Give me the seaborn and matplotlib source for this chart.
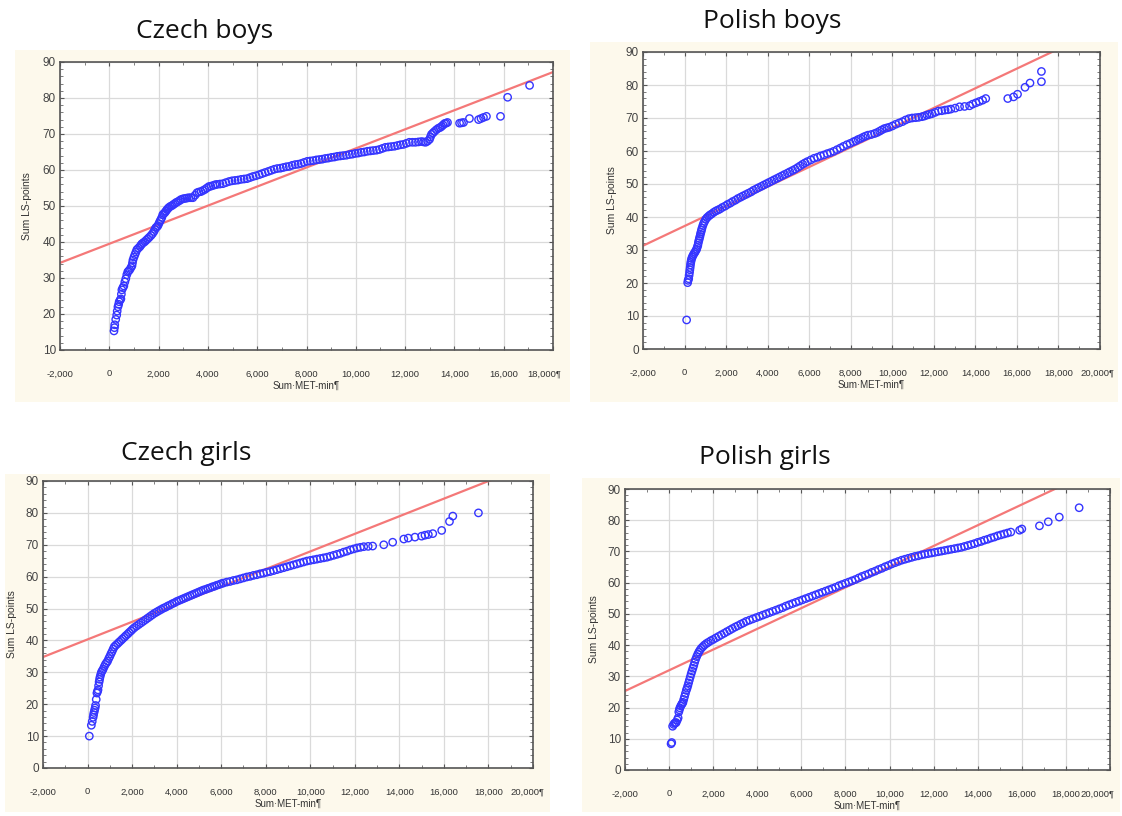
import matplotlib
matplotlib.use("Agg")
import numpy as np
import pandas as pd
import seaborn as sns
import matplotlib.pyplot as plt
from matplotlib.patches import Rectangle
from matplotlib.ticker import MultipleLocator, FixedLocator

# ---------------- data ----------------
titles = ["Czech boys", "Polish boys", "Czech girls", "Polish girls"]
x_label = "Sum·MET-min¶"
y_label = "Sum LS-points"

cb_x = [190, 210, 220, 260, 300, 320, 350, 380, 400, 440,
        470, 490, 510, 550, 590, 630, 670, 710, 750, 790,
        830, 880, 920, 940, 960, 1000, 1040, 1080, 1120, 1180,
        1240, 1280, 1320, 1380, 1440, 1500, 1560, 1620, 1690, 1750,
        1810, 1850, 1890, 1930, 1970, 2010, 2050, 2090, 2130, 2170,
        2210, 2260, 2300, 2340, 2380, 2420, 2480, 2540, 2600, 2660,
        2720, 2780, 2850, 2910, 2990, 3070, 3150, 3230, 3310, 3390,
        3480, 3560, 3640, 3720, 3800, 3880, 3960, 4040, 4120, 4210,
        4290, 4370, 4490, 4610, 4730, 4860, 4980, 5100, 5220, 5350,
        5470, 5590, 5710, 5830, 5950, 6080, 6200, 6320, 6450, 6570,
        6690, 6810, 6940, 7060, 7180, 7300, 7420, 7540, 7660, 7780,
        7900, 8030, 8150, 8270, 8400, 8520, 8640, 8760, 8880, 9010,
        9130, 9250, 9370, 9490, 9620, 9740, 9860, 9980, 10100, 10220,
        10340, 10470, 10590, 10710, 10840, 10960, 11080, 11200, 11320, 11440,
        11570, 11690, 11810, 11930, 12050, 12170, 12300, 12420, 12540, 12660,
        12750, 12830, 12910, 12990, 13030, 13070, 13130, 13190, 13270, 13350,
        13420, 13480, 13540, 13600, 13660, 13720, 14210, 14290, 14370, 14610,
        14980, 15080, 15180, 15300, 15870, 16160, 17050]
cb_y = [15.3, 16.2, 17.0, 18.5, 19.7, 20.8, 22.0, 22.7, 23.4, 23.9,
        24.2, 25.5, 26.7, 27.3, 27.8, 28.9, 29.8, 30.9, 31.7, 32.0,
        32.3, 32.9, 33.4, 34.2, 35.0, 35.8, 36.5, 37.2, 37.9, 38.3,
        38.7, 39.1, 39.5, 39.8, 40.1, 40.5, 40.9, 41.3, 41.8, 42.3,
        42.9, 43.5, 44.0, 44.2, 44.5, 45.1, 45.7, 46.2, 46.8, 47.6,
        47.9, 48.2, 48.6, 49.0, 49.3, 49.6, 49.9, 50.1, 50.4, 50.7,
        51.0, 51.2, 51.5, 51.8, 52.0, 52.1, 52.2, 52.3, 52.3, 52.3,
        53.0, 53.7, 53.9, 54.0, 54.3, 54.6, 55.0, 55.4, 55.5, 55.7,
        55.9, 56.0, 56.1, 56.2, 56.5, 56.8, 57.0, 57.1, 57.2, 57.4,
        57.5, 57.6, 57.9, 58.2, 58.4, 58.7, 59.0, 59.3, 59.6, 59.9,
        60.2, 60.4, 60.5, 60.7, 60.9, 61.0, 61.3, 61.5, 61.6, 61.8,
        62.1, 62.4, 62.5, 62.6, 62.8, 62.9, 63.0, 63.2, 63.3, 63.5,
        63.6, 63.8, 63.9, 64.0, 64.1, 64.3, 64.4, 64.6, 64.7, 64.9,
        65.0, 65.2, 65.3, 65.4, 65.5, 65.7, 66.0, 66.3, 66.4, 66.5,
        66.6, 66.8, 67.0, 67.1, 67.4, 67.7, 67.7, 67.7, 67.8, 67.9,
        67.8, 67.7, 68.0, 68.5, 69.2, 69.9, 70.3, 70.7, 71.2, 71.6,
        71.8, 72.1, 72.5, 72.9, 73.0, 73.2, 73.0, 73.1, 73.2, 74.3,
        74.0, 74.3, 74.6, 74.9, 74.9, 80.2, 83.5]
cb_line_x = [-2000, 18000]
cb_line_y = [34.2, 87.2]

pb_x = [100, 150, 170, 200, 220, 240, 255, 270, 285, 300,
        320, 340, 375, 410, 455, 500, 540, 580, 610, 640,
        665, 690, 715, 740, 765, 790, 815, 840, 880, 920,
        970, 1020, 1080, 1150, 1220, 1300, 1400, 1500, 1600, 1700,
        1820, 1950, 2070, 2200, 2320, 2450, 2570, 2700, 2820, 2950,
        3070, 3200, 3320, 3450, 3570, 3700, 3820, 3950, 4070, 4200,
        4320, 4450, 4570, 4700, 4820, 4950, 5070, 5200, 5320, 5450,
        5570, 5690, 5800, 5920, 6080, 6240, 6400, 6550, 6710, 6870,
        7020, 7180, 7340, 7500, 7650, 7810, 7970, 8130, 8250, 8360,
        8480, 8600, 8710, 8830, 8990, 9150, 9270, 9390, 9500, 9620,
        9740, 9860, 10010, 10170, 10330, 10490, 10640, 10800, 10960, 11120,
        11270, 11430, 11550, 11670, 11790, 11910, 12060, 12220, 12380, 12540,
        12680, 12820, 13030, 13240, 13480, 13720, 13870, 14030, 14190, 14350,
        14500, 15560, 15840, 16030, 16390, 16630, 17180, 17180]
pb_y = [8.8, 20.1, 20.8, 21.3, 22.3, 23.2, 24.0, 24.7, 25.5, 26.2,
        26.8, 27.4, 27.9, 28.4, 28.9, 29.3, 29.8, 30.2, 30.8, 31.4,
        32.2, 32.9, 33.5, 34.1, 34.8, 35.4, 36.0, 36.6, 37.4, 38.1,
        38.7, 39.3, 39.8, 40.2, 40.6, 40.9, 41.4, 41.8, 42.1, 42.4,
        42.9, 43.3, 43.8, 44.2, 44.7, 45.1, 45.6, 46.0, 46.4, 46.8,
        47.2, 47.6, 48.1, 48.5, 48.9, 49.3, 49.7, 50.1, 50.5, 50.9,
        51.3, 51.7, 52.1, 52.5, 52.9, 53.3, 53.7, 54.1, 54.5, 55.0,
        55.5, 56.0, 56.4, 56.8, 57.3, 57.8, 58.1, 58.5, 58.8, 59.2,
        59.5, 59.9, 60.4, 60.9, 61.4, 61.9, 62.3, 62.8, 63.1, 63.5,
        63.8, 64.2, 64.5, 64.8, 65.0, 65.3, 65.6, 66.0, 66.4, 66.8,
        67.0, 67.2, 67.6, 68.1, 68.5, 68.9, 69.4, 69.8, 70.0, 70.1,
        70.2, 70.4, 70.6, 70.9, 71.1, 71.3, 71.7, 72.1, 72.2, 72.4,
        72.5, 72.7, 73.0, 73.4, 73.5, 73.7, 74.2, 74.6, 75.0, 75.4,
        75.9, 75.9, 76.4, 77.2, 79.3, 80.6, 81.0, 84.1]
pb_line_x = [-2000, 20000]
pb_line_y = [31.3, 96.9]

cg_x = [80, 170, 210, 250, 270, 290, 315, 340, 360, 390,
        420, 445, 470, 495, 520, 540, 560, 590, 620, 660,
        700, 750, 800, 850, 900, 950, 1000, 1050, 1100, 1150,
        1200, 1270, 1350, 1420, 1500, 1570, 1650, 1720, 1800, 1870,
        1950, 2020, 2100, 2200, 2300, 2400, 2500, 2600, 2700, 2800,
        2900, 3000, 3100, 3200, 3300, 3400, 3500, 3600, 3700, 3800,
        3900, 4000, 4100, 4200, 4300, 4400, 4500, 4600, 4700, 4800,
        4900, 5000, 5100, 5200, 5300, 5400, 5500, 5600, 5700, 5800,
        5900, 6000, 6100, 6250, 6400, 6550, 6700, 6850, 7000, 7150,
        7300, 7450, 7600, 7750, 7900, 8050, 8200, 8350, 8500, 8650,
        8800, 8950, 9100, 9250, 9400, 9550, 9700, 9850, 10000, 10150,
        10300, 10450, 10600, 10750, 10900, 11050, 11200, 11350, 11500, 11650,
        11800, 11950, 12100, 12250, 12400, 12600, 12800, 13300, 13700, 14200,
        14400, 14700, 15000, 15150, 15300, 15500, 15900, 16250, 16400, 17550]
cg_y = [10.0, 13.4, 14.6, 15.9, 16.7, 17.4, 18.1, 18.8, 19.6, 21.5,
        23.5, 24.0, 24.5, 25.8, 27.0, 27.8, 28.5, 29.3, 30.0, 30.5,
        31.0, 31.8, 32.5, 33.0, 33.5, 34.3, 35.0, 35.8, 36.5, 37.3,
        38.0, 38.5, 39.0, 39.5, 40.0, 40.5, 41.0, 41.5, 42.0, 42.5,
        43.0, 43.5, 44.0, 44.5, 45.0, 45.5, 46.0, 46.5, 47.0, 47.5,
        48.0, 48.5, 48.9, 49.3, 49.7, 50.1, 50.4, 50.8, 51.1, 51.5,
        51.8, 52.2, 52.5, 52.8, 53.1, 53.4, 53.7, 54.0, 54.3, 54.6,
        54.9, 55.2, 55.5, 55.8, 56.0, 56.3, 56.5, 56.8, 57.0, 57.3,
        57.5, 57.8, 58.0, 58.3, 58.5, 58.8, 59.0, 59.3, 59.6, 59.9,
        60.1, 60.4, 60.6, 60.9, 61.1, 61.4, 61.6, 61.9, 62.2, 62.5,
        62.8, 63.1, 63.4, 63.7, 64.0, 64.3, 64.6, 64.9, 65.1, 65.3,
        65.5, 65.7, 65.9, 66.1, 66.4, 66.7, 67.0, 67.3, 67.7, 68.0,
        68.4, 68.7, 69.0, 69.2, 69.4, 69.5, 69.6, 70.0, 70.8, 71.8,
        72.1, 72.4, 72.7, 73.0, 73.2, 73.5, 74.5, 77.3, 79.0, 80.0]
cg_line_x = [-2000, 20000]
cg_line_y = [34.8, 95.5]

pg_x = [90, 120, 160, 210, 250, 290, 320, 370, 410, 440,
        465, 490, 530, 570, 600, 630, 665, 700, 740, 780,
        815, 850, 885, 920, 960, 1000, 1040, 1080, 1120, 1160,
        1200, 1250, 1300, 1350, 1400, 1460, 1530, 1600, 1690, 1780,
        1890, 2000, 2120, 2250, 2370, 2500, 2620, 2750, 2870, 3000,
        3120, 3250, 3370, 3500, 3650, 3800, 3950, 4100, 4250, 4400,
        4550, 4700, 4850, 5000, 5150, 5300, 5450, 5600, 5750, 5900,
        6050, 6200, 6350, 6500, 6650, 6800, 6950, 7100, 7250, 7400,
        7550, 7700, 7850, 8000, 8150, 8300, 8450, 8600, 8750, 8900,
        9050, 9200, 9350, 9500, 9650, 9800, 9950, 10100, 10250, 10400,
        10550, 10700, 10850, 11000, 11150, 11300, 11450, 11600, 11750, 11900,
        12050, 12200, 12350, 12500, 12650, 12800, 12950, 13100, 13250, 13400,
        13550, 13700, 13850, 14000, 14150, 14300, 14450, 14600, 14750, 14900,
        15050, 15200, 15350, 15500, 15900, 16000, 16800, 17200, 17700, 18600]
pg_y = [8.4, 8.8, 14.0, 14.6, 15.0, 15.1, 15.2, 16.0, 16.7, 18.6,
        19.3, 19.9, 20.5, 21.0, 21.3, 21.7, 22.6, 23.5, 24.5, 25.5,
        26.2, 27.0, 27.9, 28.8, 29.8, 30.8, 31.7, 32.6, 33.5, 34.5,
        35.4, 36.3, 37.1, 37.8, 38.4, 39.0, 39.5, 40.0, 40.5, 40.9,
        41.4, 41.8, 42.3, 42.8, 43.3, 43.8, 44.3, 44.8, 45.3, 45.8,
        46.2, 46.7, 47.1, 47.6, 48.0, 48.4, 48.8, 49.2, 49.6, 50.0,
        50.4, 50.8, 51.2, 51.6, 52.0, 52.5, 52.9, 53.3, 53.7, 54.1,
        54.5, 54.9, 55.3, 55.7, 56.1, 56.5, 56.9, 57.3, 57.7, 58.1,
        58.5, 59.0, 59.4, 59.8, 60.2, 60.6, 61.0, 61.5, 62.0, 62.4,
        62.8, 63.3, 63.7, 64.2, 64.6, 65.1, 65.5, 66.0, 66.4, 66.8,
        67.2, 67.5, 67.8, 68.1, 68.4, 68.6, 68.9, 69.1, 69.3, 69.5,
        69.7, 69.9, 70.1, 70.3, 70.5, 70.7, 70.9, 71.1, 71.3, 71.6,
        71.9, 72.2, 72.5, 72.9, 73.2, 73.6, 73.9, 74.3, 74.6, 75.0,
        75.3, 75.6, 75.9, 76.2, 76.8, 77.2, 78.2, 79.5, 81.0, 84.0]
pg_line_x = [-2000, 20000]
pg_line_y = [25.3, 98.3]

# ---------------- layout (pixels) ----------------
W, H = 1122, 816
sns.set_theme(style="white")
plt.rcParams["font.family"] = ["Liberation Sans", "DejaVu Sans"]

fig = plt.figure(figsize=(W / 100, H / 100), dpi=100)
fig.patch.set_facecolor("white")

def frect(l, t, r, b):
    return [l / W, 1 - b / H, (r - l) / W, (b - t) / H]

panels = [
    dict(x=cb_x, y=cb_y, lx=cb_line_x, ly=cb_line_y, ax=(60, 62, 553, 350),
         bg=(15, 50, 570, 402), title=(205, 32), ylim=(10, 90), xmax=18000,
         ylab_x=27, shift=-6),
    dict(x=pb_x, y=pb_y, lx=pb_line_x, ly=pb_line_y, ax=(643, 52, 1100, 349),
         bg=(590, 42, 1118, 402), title=(772, 22), ylim=(0, 90), xmax=20000,
         ylab_x=612, shift=-2),
    dict(x=cg_x, y=cg_y, lx=cg_line_x, ly=cg_line_y, ax=(43, 481, 533, 768),
         bg=(5, 474, 550, 812), title=(186, 453), ylim=(0, 90), xmax=20000,
         ylab_x=12, shift=-4),
    dict(x=pg_x, y=pg_y, lx=pg_line_x, ly=pg_line_y, ax=(625, 489, 1110, 770),
         bg=(582, 478, 1120, 812), title=(765, 458), ylim=(0, 90), xmax=20000,
         ylab_x=594, shift=-9),
]

cream = "#fdf9ec"
tick_pad = 14
tick_fs = 6.8
for i, p in enumerate(panels):
    l, t, r, b = p["bg"]
    fig.patches.append(Rectangle((l / W, 1 - b / H), (r - l) / W, (b - t) / H,
                                 transform=fig.transFigure, facecolor=cream,
                                 edgecolor="none", zorder=-5))
    tx, ty = p["title"]
    fig.text(tx / W, 1 - ty / H, titles[i], ha="center", va="center",
             fontsize=19, family=["Open Sans", "DejaVu Sans"], color="#111111")

    ax = fig.add_axes(frect(*p["ax"]))
    ax.set_zorder(2)
    ax.set_facecolor("white")
    ax.grid(True, which="major", color="#dadada", lw=0.9)
    ax.set_axisbelow(True)

    sns.lineplot(x=p["lx"], y=p["ly"], ax=ax, color="#f47878", lw=1.6, zorder=2)
    sns.scatterplot(x=p["x"], y=p["y"], ax=ax, s=28, facecolor="none",
                    edgecolor="#3535ff", linewidth=1.0, zorder=3)

    ax.set_xlim(-2000, p["xmax"])
    ax.set_ylim(*p["ylim"])
    xt = list(range(-2000, p["xmax"] + 1, 2000))
    ax.xaxis.set_major_locator(FixedLocator(xt))
    labels = [f"{v:,}" for v in xt]
    last_label = labels[-1] + "¶"
    labels[-1] = ""
    ax.set_xticklabels(labels)
    # last label drawn separately so that it can sit slightly inside the edge
    ax.annotate(last_label, xy=(1, 0), xycoords="axes fraction",
                xytext=(p["shift"], -tick_pad), textcoords="offset points",
                ha="center", va="top", fontsize=tick_fs, color="#333333",
                annotation_clip=False)
    ax.xaxis.set_minor_locator(MultipleLocator(1000))
    ax.yaxis.set_major_locator(MultipleLocator(10))
    ax.yaxis.set_minor_locator(MultipleLocator(2))

    ax.tick_params(axis="x", which="major", direction="in", top=True, bottom=True,
                   length=3, width=0.8, color="#555555", labelsize=tick_fs,
                   labelcolor="#333333", pad=tick_pad)
    ax.tick_params(axis="y", which="major", direction="in", left=True, right=True,
                   length=3, width=0.8, color="#555555", labelsize=8.5,
                   labelcolor="#444444", pad=3)
    ax.tick_params(which="minor", direction="in", top=True, bottom=True, left=True,
                   right=True, length=2, width=0.6, color="#666666")

    for s in ax.spines.values():
        s.set_color("#555555")
        s.set_linewidth(1.2)
        s.set_visible(True)

    ax.set_xlabel(x_label, fontsize=7, color="#333333", labelpad=2)
    ax.set_ylabel("")
    cy = (p["ax"][1] + p["ax"][3]) / 2
    fig.text(p["ylab_x"] / W, 1 - cy / H, y_label, rotation=90, ha="center",
             va="center", fontsize=7.5, color="#333333")

fig.savefig("out.png", dpi=100, facecolor="white")
